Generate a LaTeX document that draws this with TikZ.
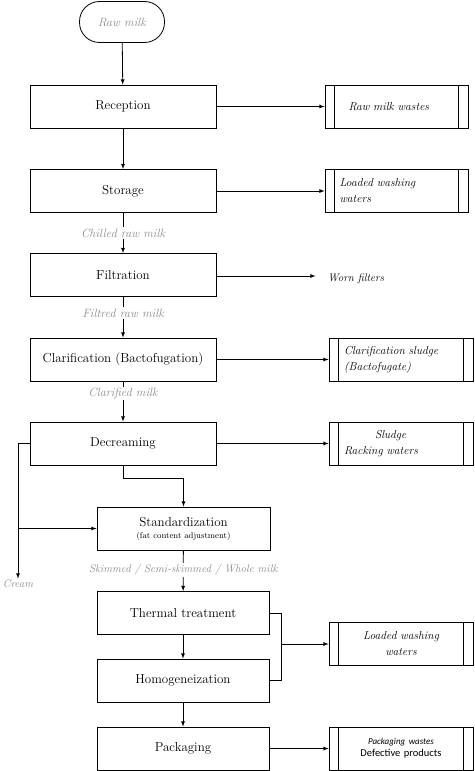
\documentclass[tikz,border=0pt]{standalone}
\usepackage{fontspec}
\newfontfamily\calfont{Carlito}
\definecolor{lblgray}{RGB}{140,140,140}
\begin{document}
\begin{tikzpicture}[x=1pt, y=-1pt, thick, >={latex},
  stage/.style={draw, minimum width=186pt, minimum height=43pt, font=\fontsize{13}{15}\selectfont},
  waste/.style={draw, minimum width=144pt, minimum height=43pt, text width=114pt, align=left,
    font=\fontsize{11.5}{16}\selectfont\itshape,
    path picture={
      \draw ([xshift=9.5pt]path picture bounding box.north west) -- ([xshift=9.5pt]path picture bounding box.south west);
      \draw ([xshift=-9.5pt]path picture bounding box.north east) -- ([xshift=-9.5pt]path picture bounding box.south east);}},
  flowlbl/.style={fill=white, text=lblgray, inner sep=1.5pt, font=\fontsize{12}{14}\selectfont\itshape}]
	\useasboundingbox (0,0) rectangle (474,771);

	% main line
	\node[draw, rounded corners=20pt, minimum width=85pt, minimum height=41pt, text=lblgray,
	      font=\fontsize{12}{14}\selectfont\itshape] (raw) at (122,22) {Raw milk};
	\node[stage] (rec) at (123,106.5) {Reception};
	\node[stage] (sto) at (123,191) {Storage};
	\node[stage] (fil) at (123,275) {Filtration};
	\node[stage] (cla) at (123,359.5) {Clarification (Bactofugation)};
	\node[stage] (dec) at (123,443.5) {Decreaming};
	\node[stage, minimum width=173pt, align=center] (std) at (183.5,528.5)
	     {Standardization\\[-3pt]{\fontsize{8.5}{10}\selectfont(fat content adjustment)}};
	\node[stage, minimum width=172pt] (the) at (183,613) {Thermal treatment};
	\node[stage, minimum width=172pt] (hom) at (183,680.5) {Homogeneization};
	\node[stage, minimum width=172pt] (pac) at (183,748.5) {Packaging};

	% wastes
	\node[waste, minimum width=143pt] (rmw) at (396.5,106.5) {\hspace*{9pt}Raw milk wastes};
	\node[waste, minimum width=143pt] (lww) at (396.5,191) {Loaded washing\\waters};
	\node[inner xsep=12pt, font=\fontsize{11}{13}\selectfont\itshape] (worn) at (356,279) {Worn filters};
	\node[waste] (cls) at (401,359.5) {Clarification sludge\\(Bactofugate)};
	\node[waste] (slu) at (401,443.5) {\hspace*{31pt}Sludge\\Racking waters};
	\node[waste, align=center] (lwb) at (401,644) {Loaded washing\\waters};
	\node[waste, align=center, font=\calfont\fontsize{10.5}{12}\selectfont] (pkw) at (401,748.5)
	     {{\fontsize{9}{11}\selectfont\itshape Packaging wastes}\\Defective products};
	\node[text=lblgray, font=\fontsize{11}{13}\selectfont\itshape, inner sep=1pt] (crm) at (18,584) {Cream};

	% flow
	\draw[->] (raw) -- (rec);
	\draw[->] (rec) -- (sto);
	\draw[->] (sto) -- node[flowlbl, pos=0.5] {Chilled raw milk} (fil);
	\draw[->] (fil) -- node[flowlbl, pos=0.4] {Filtred raw milk} (cla);
	\draw[->] (cla) -- node[flowlbl, pos=0.3] {Clarified milk} (dec);
	\draw[->] (dec.south) -- ++(0,13) -| (std.north);
	\draw[->] (dec.west) -| (crm.north);
	\draw[->] (std.west -| crm.north) -- (std.west);
	\draw[->] (std) -- node[flowlbl, pos=0.47, font=\fontsize{11}{13}\selectfont\itshape] {Skimmed / Semi-skimmed / Whole milk} (the);
	\draw[->] (the) -- (hom);
	\draw[->] (hom) -- (pac);

	% to wastes
	\draw[->] (rec) -- (rmw);
	\draw[->] (sto) -- (lww);
	\draw[->] ([yshift=-1pt]fil.east) -- ([yshift=-1pt]fil.east -| worn.west);
	\draw[->] (cla) -- (cls);
	\draw[->] (dec) -- (slu);
	\draw (the.east) -- ++(12,0) coordinate (tj) |- (hom.east);
	\draw[->] (tj |- lwb.west) -- (lwb.west);
	\draw[->] (pac) -- (pkw);
\end{tikzpicture}
\end{document}
